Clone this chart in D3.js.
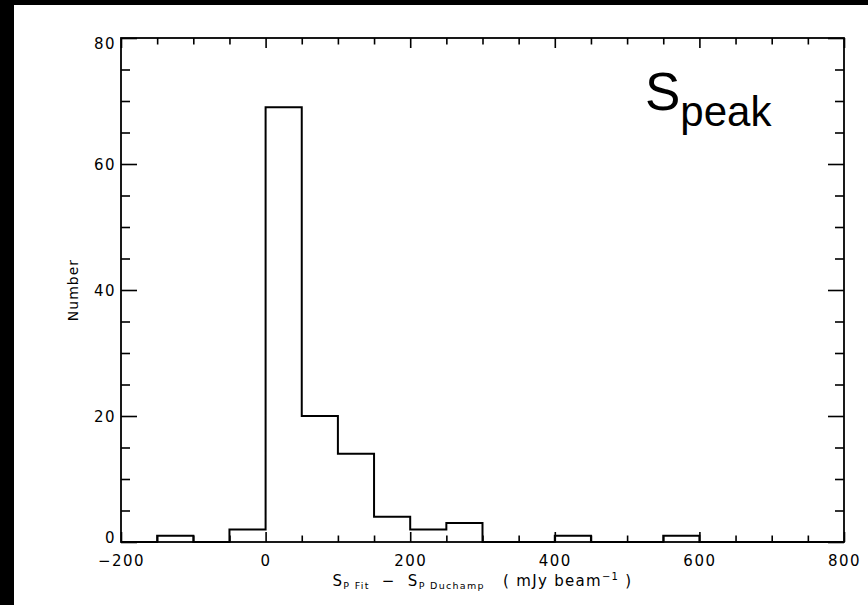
<!DOCTYPE html>
<html>
<head>
<meta charset="utf-8">
<script src="https://cdn.jsdelivr.net/npm/d3@7"></script>
<style>
  body { margin: 0; background: #fff; }
  svg { display: block; }
  .tick text { font-family: "DejaVu Sans", sans-serif; font-size: 15px; letter-spacing: 1.5px; fill: #000; }
  .xtitle { white-space: pre; }
</style>
</head>
<body>
<svg id="chart"></svg>
<script>
// histogram of flux differences, bins of 50 mJy/beam
var binStarts = [-200, -150, -100, -50, 0, 50, 100, 150, 200, 250, 300, 350, 400, 450, 500, 550, 600, 650, 700, 750];
var counts    = [0, 1, 0, 2, 69, 20, 14, 4, 2, 3, 0, 0, 1, 0, 0, 1, 0, 0, 0, 0];
var binWidth = 50;
var xMajor = [-200, 0, 200, 400, 600, 800];
var yMajor = [0, 20, 40, 60, 80];

var svgWidth = 868, svgHeight = 605;
var margin = {left: 121, right: 868 - 844, top: 38, bottom: 605 - 542};

var svg = d3.select('#chart')
    .attr('width', svgWidth)
    .attr('height', svgHeight);

// black strips of the original screenshot
svg.append('rect').attr('x', 0).attr('y', 0).attr('width', svgWidth).attr('height', 5).attr('fill', '#000');
svg.append('rect').attr('x', 0).attr('y', 0).attr('width', 14).attr('height', svgHeight).attr('fill', '#000');

var x = d3.scaleLinear().domain([-200, 800]).range([margin.left, svgWidth - margin.right]);
var y = d3.scaleLinear().domain([0, 80]).range([svgHeight - margin.bottom, margin.top]);

var xMinor = d3.range(-200, 801, 50).filter(function(v) { return xMajor.indexOf(v) < 0; });
var yMinor = d3.range(0, 81, 5).filter(function(v) { return yMajor.indexOf(v) < 0; });

var x0 = x.range()[0], x1 = x.range()[1], y0 = y.range()[0], y1 = y.range()[1];

function styleAxis(g) {
    g.select('.domain').remove();
    g.selectAll('line').attr('stroke', '#000').attr('stroke-width', 1.6);
}

// bottom axis: major ticks with labels, minor ticks
svg.append('g').attr('transform', 'translate(0,' + y0 + ')')
    .call(d3.axisBottom(x).tickValues(xMajor).tickSizeInner(-10).tickSizeOuter(0).tickPadding(13)
        .tickFormat(function(d) { return d < 0 ? '\u2212' + Math.abs(d) : d; }))
    .call(styleAxis);
svg.append('g').attr('transform', 'translate(0,' + y0 + ')')
    .call(d3.axisBottom(x).tickValues(xMinor).tickSizeInner(-6.5).tickSizeOuter(0).tickFormat(''))
    .call(styleAxis);
// top axis (mirror)
svg.append('g').attr('transform', 'translate(0,' + y1 + ')')
    .call(d3.axisTop(x).tickValues(xMajor).tickSizeInner(-10).tickSizeOuter(0).tickFormat(''))
    .call(styleAxis);
svg.append('g').attr('transform', 'translate(0,' + y1 + ')')
    .call(d3.axisTop(x).tickValues(xMinor).tickSizeInner(-6.5).tickSizeOuter(0).tickFormat(''))
    .call(styleAxis);

// left axis
var yAxisG = svg.append('g').attr('transform', 'translate(' + x0 + ',0)')
    .call(d3.axisLeft(y).tickValues(yMajor).tickSizeInner(-16).tickSizeOuter(0).tickPadding(5))
    .call(styleAxis);
yAxisG.selectAll('.tick text')
    .attr('dy', function(d) { return d === 0 ? '0em' : (d === 80 ? '0.73em' : '0.36em'); });
svg.append('g').attr('transform', 'translate(' + x0 + ',0)')
    .call(d3.axisLeft(y).tickValues(yMinor).tickSizeInner(-9).tickSizeOuter(0).tickFormat(''))
    .call(styleAxis);
// right axis (mirror)
svg.append('g').attr('transform', 'translate(' + x1 + ',0)')
    .call(d3.axisRight(y).tickValues(yMajor).tickSizeInner(-16).tickSizeOuter(0).tickFormat(''))
    .call(styleAxis);
svg.append('g').attr('transform', 'translate(' + x1 + ',0)')
    .call(d3.axisRight(y).tickValues(yMinor).tickSizeInner(-9).tickSizeOuter(0).tickFormat(''))
    .call(styleAxis);

// plot frame
svg.append('rect')
    .attr('x', x0).attr('y', y1)
    .attr('width', x1 - x0).attr('height', y0 - y1)
    .attr('fill', 'none').attr('stroke', '#000').attr('stroke-width', 1.8);

// histogram as a step outline
var pts = [[x(binStarts[0]), y(0)]];
binStarts.forEach(function(lo, i) {
    pts.push([x(lo), y(counts[i])]);
    pts.push([x(lo + binWidth), y(counts[i])]);
});
pts.push([x(binStarts[binStarts.length - 1] + binWidth), y(0)]);

svg.append('path')
    .attr('d', d3.line()(pts))
    .attr('fill', 'none')
    .attr('stroke', '#000')
    .attr('stroke-width', 2);

// y title
svg.append('text')
    .attr('transform', 'translate(78,' + ((y0 + y1) / 2) + ') rotate(-90)')
    .attr('text-anchor', 'middle')
    .attr('font-family', 'DejaVu Sans, sans-serif')
    .attr('font-size', 14)
    .attr('letter-spacing', 1)
    .text('Number');

// x title with subscripts / superscript
var xt = svg.append('text')
    .attr('class', 'xtitle')
    .attr('x', (x0 + x1) / 2)
    .attr('y', 586)
    .attr('text-anchor', 'middle')
    .attr('font-family', 'DejaVu Sans, sans-serif')
    .attr('font-size', 15)
    .attr('letter-spacing', 1.3);
xt.append('tspan').text('S');
xt.append('tspan').attr('font-size', 9.5).attr('dy', 3).text('P Fit');
xt.append('tspan').attr('dy', -3).text('  \u2212  S');
xt.append('tspan').attr('font-size', 9.5).attr('dy', 3).text('P Duchamp');
xt.append('tspan').attr('dy', -3).text('   ( mJy beam');
xt.append('tspan').attr('font-size', 10).attr('dy', -6).text('\u22121');
xt.append('tspan').attr('dy', 6).text(' )');

// S_peak label
var lab = svg.append('text')
    .attr('x', 645)
    .attr('y', 110)
    .attr('font-family', 'Liberation Sans, Arial, sans-serif')
    .attr('fill', '#000');
lab.append('tspan').attr('font-size', 53).text('S');
lab.append('tspan').attr('font-size', 42).attr('dy', 16).text('peak');
</script>
</body>
</html>
